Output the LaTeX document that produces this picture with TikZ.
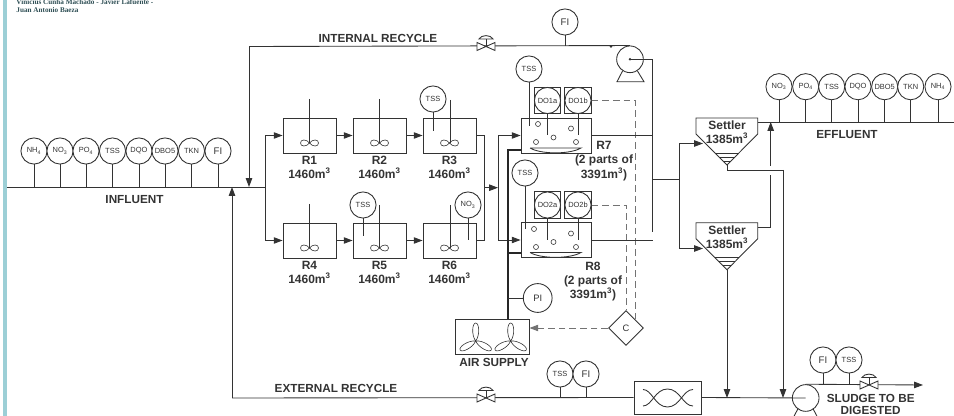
\documentclass[tikz,border=0pt]{standalone}
\usepackage{fontspec}
\setmainfont{Liberation Sans}
\newfontfamily\headfont{Liberation Serif}
\usetikzlibrary{arrows.meta,shapes.geometric}
\definecolor{linegrey}{HTML}{333333}
\definecolor{sidebar}{HTML}{9CCFD6}
\definecolor{headtext}{HTML}{2F4F55}
\newcommand{\impeller}[2]{\draw[shift={(#1,#2)},line width=0.45pt] (0,0) .. controls (-3,-4) and (-9,-4) .. (-9,0) .. controls (-9,4) and (-3,4) .. (0,0) .. controls (3,-4) and (9,-4) .. (9,0) .. controls (9,4) and (3,4) .. (0,0);}
\newcommand{\valve}[1]{\draw[fill=white,shift={(#1)}] (-9,-4)--(9,4)--(9,-4)--(-9,4)--cycle;
  \draw[shift={(#1)}] (0,0)--(0,-7.5);
  \draw[fill=white,shift={(#1)}] (-7,-7.5) .. controls (-5,-12) and (5,-12) .. (7,-7.5)--cycle;}
\newcommand{\fanblades}[1]{\foreach \ang in {0,120,240}{\draw[shift={(#1)},rotate=\ang,line width=0.45pt] (0,0) .. controls (-4.5,-6) and (-3.5,-18) .. (0,-18) .. controls (3.5,-18) and (4.5,-6) .. (0,0);}}
\newcommand{\settlerbody}[1]{\draw[shift={(0,#1)}] (696,118)--(757.7,118)--(757.7,134)--(727,165)--(696,134)--cycle;
  \draw[shift={(0,#1)},line width=0.45pt] (715,153)--(739,153) (719,157)--(735,157) (723,161)--(731,161);}
\newcommand{\smallring}[2]{\draw[line width=0.45pt] (#1,#2) circle (2.5);}
\begin{document}
\begin{tikzpicture}[x=0.75pt,y=-0.75pt,color=linegrey,line width=0.65pt]
\tikzstyle{probe} = [circle,draw,fill=white,minimum size=19.6pt,inner sep=0pt,font=\fontsize{5.6}{6}\selectfont]
\tikzstyle{probefi} = [probe,font=\fontsize{7.2}{8}\selectfont]
\tikzstyle{tank} = [rectangle,draw,minimum width=39.75pt,minimum height=26.25pt,inner sep=0pt]
\tikzstyle{basin} = [rectangle,draw,minimum width=52.5pt,minimum height=26.25pt,inner sep=0pt]
\tikzstyle{dobox} = [rectangle,draw,minimum size=20pt,inner sep=0pt]
\tikzstyle{lab} = [align=center,inner sep=0pt,font=\fontsize{9}{10.8}\bfseries\selectfont]
\tikzstyle{capt} = [inner sep=0pt,font=\fontsize{8.8}{10.6}\bfseries\selectfont]
\tikzstyle{flow} = [-{Triangle[length=6.6pt,width=4.8pt]}]
\tikzstyle{sig} = [dash pattern=on 5pt off 3pt,draw=black!55,line width=0.7pt]
\tikzstyle{fatline} = [line width=1.6pt,draw=black!85]
\tikzstyle{junction} = [circle,fill,minimum size=2pt,inner sep=0pt]

\useasboundingbox (0,0) rectangle (954,416);
\clip (0,0) rectangle (954,416);
\fill[sidebar] (3,0) rectangle (7,416);
\draw(16,2.5)node[anchor=west,inner sep=0pt,text=headtext,font=\headfont\fontsize{5.4}{6}\bfseries\selectfont](headA){Vinicius Cunha Machado - Javier Lafuente -};
\draw(16,10.5)node[anchor=west,inner sep=0pt,text=headtext,font=\headfont\fontsize{5.4}{6}\bfseries\selectfont](headB){Juan Antonio Baeza};

%points of the main lines
\coordinate (infA) at (7,187);
\coordinate (infB) at (265,187);
\coordinate (feedA) at (265,135.5);
\coordinate (feedB) at (265,240.5);
\coordinate (intA) at (249,46.5);
\coordinate (intB) at (249,187);
\coordinate (extA) at (232,398);
\coordinate (extB) at (232,187);
\coordinate (vInt) at (486,46.5);
\coordinate (vExt) at (486,398);
\coordinate (vOut) at (869,385);
\coordinate (outEnd) at (923,385);
\coordinate (effA) at (757.7,122);
\coordinate (effB) at (954,122);

%influent probes
\draw(34,151)node[probe](inNH){NH\textsubscript{4}};
\draw(60,151)node[probe](inNO){NO\textsubscript{3}};
\draw(86,151)node[probe](inPO){PO\textsubscript{4}};
\draw(112.5,151)node[probe](inTSS){TSS};
\draw(139,151)node[probe](inDQO){DQO};
\draw(165,151)node[probe](inDBO){DBO5};
\draw(191.5,151)node[probe](inTKN){TKN};
\draw(218,151)node[probefi](inFI){FI};
\draw (inNH)--(inNH|-infA);
\draw (inNO)--(inNO|-infA);
\draw (inPO)--(inPO|-infA);
\draw (inTSS)--(inTSS|-infA);
\draw (inDQO)--(inDQO|-infA);
\draw (inDBO)--(inDBO|-infA);
\draw (inTKN)--(inTKN|-infA);
\draw (inFI)--(inFI|-infA);
\draw (infA)--(infB);
\draw(134.5,199.5)node[capt](lInf){INFLUENT};

%anoxic and anaerobic tanks
\draw(309.5,135.5)node[tank](R1){};
\draw(379.5,135.5)node[tank](R2){};
\draw(449.5,135.5)node[tank](R3){};
\draw(309.5,240.5)node[tank](R4){};
\draw(379.5,240.5)node[tank](R5){};
\draw(449.5,240.5)node[tank](R6){};
\draw(309.5,167.5)node[lab](lR1){R1\\1460m\textsuperscript{3}};
\draw(379.5,167.5)node[lab](lR2){R2\\1460m\textsuperscript{3}};
\draw(449.5,167.5)node[lab](lR3){R3\\1460m\textsuperscript{3}};
\draw(309.5,272.5)node[lab](lR4){R4\\1460m\textsuperscript{3}};
\draw(379.5,272.5)node[lab](lR5){R5\\1460m\textsuperscript{3}};
\draw(449.5,272.5)node[lab](lR6){R6\\1460m\textsuperscript{3}};

%shafts
\draw (309.5,99)--(309.5,143);
\draw (379.5,99)--(379.5,143);
\draw (450,100)--(450,143);
\draw (309.5,204)--(309.5,248);
\draw (379.5,205)--(379.5,248);
\draw (450,205)--(450,248);
\impeller{309.5}{143}
\impeller{379.5}{143}
\impeller{449.5}{143}
\impeller{309.5}{248}
\impeller{379.5}{248}
\impeller{449.5}{248}

%tank probes
\draw(433,99)node[probe](p3){TSS};
\draw(363,205)node[probe](p5){TSS};
\draw(468,205)node[probe](p6){NO\textsubscript{3}};
\draw (p3)--(433,131);
\draw (p5)--(363,236);
\draw (p6)--(468,240);

%tank connections
\draw (infB)--(feedA);
\draw (infB)--(feedB);
\draw[flow] (feedA)--(R1.west);
\draw[flow] (feedB)--(R4.west);
\draw[flow] (R1)--(R2);
\draw[flow] (R2)--(R3);
\draw[flow] (R4)--(R5);
\draw[flow] (R5)--(R6);
\coordinate (colA) at (484,135.5);
\coordinate (colB) at (484,240.5);
\coordinate (colC) at (484,187.7);
\coordinate (colD) at (498,187.7);
\draw (R3.east)--(colA)--(colB)--(R6.east);
\draw[flow] (colC)--(colD);

%aerated basins
\draw(556,135.5)node[basin](R7){};
\draw(556,240)node[basin](R8){};
\draw (colD|-R7)--(colD|-R8);
\draw[flow] (colD|-R7)--(R7.west);
\draw[flow] (colD|-R8)--(R8.west);
\draw (530,148)--(581,148) .. controls (570,154.5) and (541,154.5) .. (530,148);
\draw (530,252.5)--(581,252.5) .. controls (570,259) and (541,259) .. (530,252.5);
\smallring{538}{124}
\smallring{571}{128.5}
\smallring{536}{142}
\smallring{553.5}{137.5}
\smallring{576}{142}
\smallring{534}{229}
\smallring{571}{233.5}
\smallring{536}{247}
\smallring{553.5}{242}
\smallring{576}{247}

%oxygen probes
\draw(529,69)node[probe](pR7){TSS};
\draw(525,173)node[probe](pR8){TSS};
\draw (pR7)--(529,126);
\draw (pR8)--(525,229);
\draw(547.5,100.5)node[dobox](bxA){};
\draw(578,100.5)node[dobox](bxB){};
\draw(547.5,205)node[dobox](bxC){};
\draw(578,205)node[dobox](bxD){};
\draw(547.5,100.5)node[probe](DOa){DO1a};
\draw(578,100.5)node[probe](DOb){DO1b};
\draw(547.5,205)node[probe](DOc){DO2a};
\draw(578,205)node[probe](DOd){DO2b};
\draw (DOa)--(547.5,135);
\draw (DOb)--(578,135);
\draw (DOc)--(547.5,240);
\draw (DOd)--(578,240);
\draw(604,161)node[lab](lR7){R7\\(2 parts of\\3391m\textsuperscript{3})};
\draw(593,281.5)node[lab](lR8){R8\\(2 parts of\\3391m\textsuperscript{3})};

%air supply
\draw(492,336.5)node[rectangle,draw,minimum width=55.5pt,minimum height=26.25pt,inner sep=0pt](air){};
\fanblades{475.7,341}
\fanblades{510.7,341}
\draw(494,362.5)node[capt](lAir){AIR SUPPLY};
\coordinate (airA) at (508,319);
\coordinate (airB) at (508,150);
\coordinate (airC) at (521,150);
\coordinate (airD) at (508,253);
\coordinate (airE) at (521,253);
\draw[fatline] (airA)--(airB)--(airC);
\draw[fatline] (airD)--(airE);
\draw(537.7,298)node[probe,minimum size=21.6pt,font=\fontsize{7}{8}\selectfont](PI){PI};
\draw (PI)--(PI-|airA);

%controller
\draw(626,328)node[diamond,draw,minimum size=26.25pt,inner sep=0pt,font=\fontsize{7}{8}\selectfont](C){C};
\coordinate (sigA) at (635,100.5);
\coordinate (sigB) at (635,319);
\coordinate (sigC) at (626,205);
\draw[sig] (DOb)--(sigA)--(sigB);
\draw[sig] (DOd)--(sigC)--(C.north);
\draw[sig,-{Triangle[length=6.6pt,width=4.8pt]}] (C.west)--(air.east|-C.west);

%internal recycle
\draw(630,59.3)node[circle,draw,minimum size=20pt,inner sep=0pt](pumpA){};
\draw (622.7,70.7)--(617,81.7)--(644,81.7)--(637.3,70.7);
\draw[flow] (intA)--(intB);
\draw (intA)--(pumpA.north);
\draw(611,46.5)node[junction](dotA){};
\draw(pumpA.center)node[junction](dotB){};
\draw(565,22)node[probefi](fiInt){FI};
\draw (fiInt)--(fiInt|-intA);
\valve{vInt}
\draw(378,38)node[capt](lInt){INTERNAL RECYCLE};
\coordinate (retA) at (652.5,59.3);
\coordinate (retB) at (652.5,232);
\draw (pumpA.center)--(retA)--(retB);
\draw (R7.east)--(R7.east-|retA);
\draw (R8.east)--(R8.east-|retA);

%settlers
\settlerbody{0}
\settlerbody{104.7}
\draw(727,132.5)node[lab](setA){Settler\\1385m\textsuperscript{3}};
\draw(727,237.2)node[lab](setB){Settler\\1385m\textsuperscript{3}};
\coordinate (joinA) at (652.5,179);
\coordinate (joinB) at (679,179);
\coordinate (setAin) at (703,143.5);
\coordinate (setBin) at (703,248.5);
\draw (joinA)--(joinB);
\draw (joinB|-setAin)--(joinB|-setBin);
\draw[flow] (joinB|-setAin)--(setAin);
\draw[flow] (joinB|-setBin)--(setBin);
\coordinate (topA) at (727,165);
\coordinate (topB) at (727,170);
\coordinate (topC) at (783,170);
\coordinate (topD) at (783,398);
\coordinate (lowA) at (727,269.7);
\coordinate (lowB) at (727,398);
\draw (topA)--(topB)--(topC);
\draw[flow] (topC)--(topD);
\draw[flow] (lowA)--(lowB);
\coordinate (upA) at (757.7,227);
\coordinate (upB) at (770.7,227);
\coordinate (upC) at (770.7,175);
\coordinate (upD) at (770.7,166);
\coordinate (upE) at (770.7,122);
\draw (upA)--(upB)--(upC);
\draw[flow] (upD)--(upE);

%effluent probes
\draw(779,86.7)node[probe](efNO){NO\textsubscript{3}};
\draw(805.7,86.7)node[probe](efPO){PO\textsubscript{4}};
\draw(831.7,86.7)node[probe](efTSS){TSS};
\draw(858,86.7)node[probe](efDQO){DQO};
\draw(884.7,86.7)node[probe](efDBO){DBO5};
\draw(910.7,86.7)node[probe](efTKN){TKN};
\draw(938,86.7)node[probe](efNH){NH\textsubscript{4}};
\draw (efNO)--(efNO|-effA);
\draw (efPO)--(efPO|-effA);
\draw (efTSS)--(efTSS|-effA);
\draw (efDQO)--(efDQO|-effA);
\draw (efDBO)--(efDBO|-effA);
\draw (efTKN)--(efTKN|-effA);
\draw (efNH)--(efNH|-effA);
\draw (effA)--(effB);
\draw(847,135)node[capt](lEff){EFFLUENT};

%external recycle
\draw(667.5,397.5)node[rectangle,draw,minimum width=50.25pt,minimum height=24.75pt,inner sep=0pt](mix){};
\draw (643,389.5) .. controls (652,389.5) and (655,407) .. (667.5,407) .. controls (680,407) and (683,389.5) .. (693,389.5);
\draw (643,406) .. controls (652,406) and (655,389) .. (667.5,389) .. controls (680,389) and (683,406) .. (693,406);
\draw(805.7,398)node[circle,draw,minimum size=20pt,inner sep=0pt](pumpB){};
\draw (798,408.7)--(792,420)--(819,420)--(813,408.7);
\draw[flow] (extA)--(extB);
\draw (extA)--(mix.west);
\draw (mix.east)--(pumpB.center);
\valve{vExt}
\draw(336,388.5)node[capt](lExt){EXTERNAL RECYCLE};
\draw(560,374)node[probe](bTSS){TSS};
\draw(586,374)node[probefi](bFI){FI};
\draw (bTSS)--(bTSS|-extA);
\draw (bFI)--(bFI|-extA);

%waste sludge
\draw[flow] (pumpB.north)--(outEnd);
\valve{vOut}
\draw(823,360)node[probefi](wFI){FI};
\draw(849,360)node[probe](wTSS){TSS};
\draw (wFI)--(wFI|-vOut);
\draw (wTSS)--(wTSS|-vOut);
\draw(870.7,398)node[capt](lSlA){SLUDGE TO BE};
\draw(870.7,410.5)node[capt](lSlB){DIGESTED};
\end{tikzpicture}
\end{document}
